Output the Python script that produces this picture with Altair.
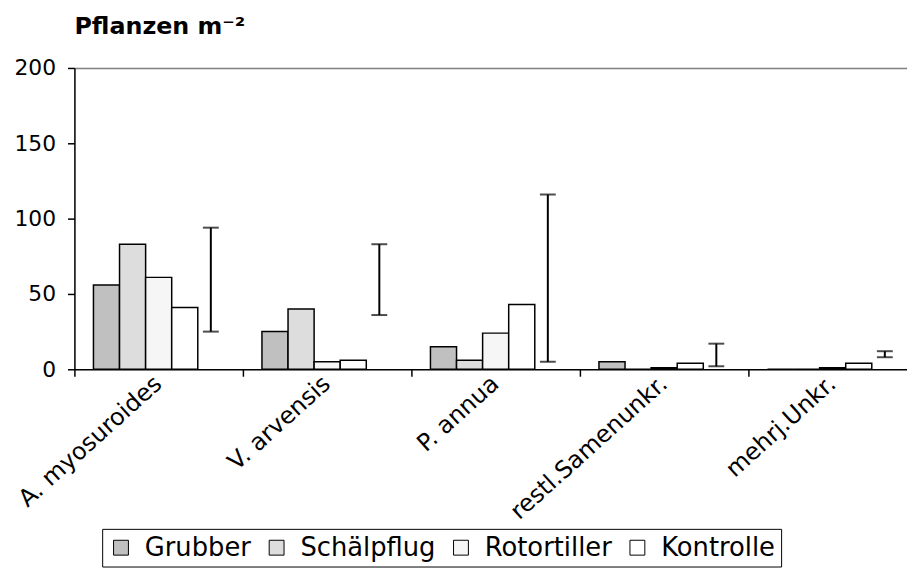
import altair as alt
import pandas as pd

categories = ["A. myosuroides", "V. arvensis", "P. annua", "restl.Samenunkr.", "mehrj.Unkr."]
series = ["Grubber", "Schälpflug", "Rotortiller", "Kontrolle"]
grubber = [56, 25, 15, 5, 0]
schaelpflug = [83, 40, 6, 0, 0]
rotortiller = [61, 5, 24, 1, 1]
kontrolle = [41, 6, 43, 4, 4]
err_low = [25, 36, 5, 2, 8]
err_high = [94, 83, 116, 17, 12]
colors = ["#C0C0C0", "#DDDDDD", "#F6F6F6", "#FFFFFF"]
slots = series + ["GD"]
y_ticks = [0, 50, 100, 150, 200]

rows = []
for s, vals in zip(series, [grubber, schaelpflug, rotortiller, kontrolle]):
    for c, v in zip(categories, vals):
        rows.append({"cat": c, "series": s, "value": v})
bars_df = pd.DataFrame(rows)
err_df = pd.DataFrame({"cat": categories, "slot": ["GD"] * len(categories),
                       "low": err_low, "high": err_high})

FONT = "DejaVu Sans"

x_scale = alt.Scale(domain=categories, range=[0, 850], paddingInner=0, paddingOuter=0)
x_enc = alt.X(
    "cat:N", sort=categories, scale=x_scale,
    axis=alt.Axis(title=None, labelAngle=-42, labelAlign="right", labelBaseline="middle",
                  labelFontSize=24, labelFont=FONT, labelColor="black", labelPadding=4,
                  tickSize=7, tickColor="black", tickWidth=1.5, bandPosition=0,
                  domainColor="black", domainWidth=1.5, labelLimit=400),
)
xoff_scale = alt.Scale(domain=slots, paddingInner=0, paddingOuter=0.73)

bars = alt.Chart(bars_df).mark_bar(stroke="black", strokeWidth=1.5).encode(
    x=x_enc,
    xOffset=alt.XOffset("series:N", sort=slots, scale=xoff_scale),
    y=alt.Y("value:Q", scale=alt.Scale(domain=[0, 200], nice=False),
            axis=alt.Axis(title=None, values=y_ticks, labelFontSize=22, labelFont=FONT,
                          labelColor="black", labelPadding=12, tickSize=7, tickColor="black",
                          tickWidth=1.5, domainColor="black", domainWidth=1.5,
                          grid=True, gridColor="#808080", gridWidth=1.5,
                          gridOpacity={"condition": {"test": "datum.value === 200", "value": 1}, "value": 0})),
    fill=alt.Fill("series:N", sort=series,
                  scale=alt.Scale(domain=series, range=colors),
                  legend=alt.Legend(title=None, orient="none", legendX=28, legendY=465,
                                    direction="horizontal", strokeColor="black", padding=6,
                                    symbolType="square", symbolSize=225,
                                    symbolStrokeColor="black", symbolStrokeWidth=1,
                                    labelFontSize=26, labelFont=FONT, labelColor="black",
                                    labelOffset=11, columnPadding=12)),
)

rules = alt.Chart(err_df).mark_rule(color="black", strokeWidth=2).encode(
    x=alt.X("cat:N", sort=categories, scale=x_scale),
    xOffset=alt.XOffset("slot:N", scale=xoff_scale),
    y=alt.Y("low:Q"),
    y2="high:Q",
)
cap_low = alt.Chart(err_df).mark_tick(color="black", thickness=2, size=16).encode(
    x=alt.X("cat:N", sort=categories, scale=x_scale),
    xOffset=alt.XOffset("slot:N", scale=xoff_scale),
    y=alt.Y("low:Q"),
)
cap_high = alt.Chart(err_df).mark_tick(color="black", thickness=2, size=16).encode(
    x=alt.X("cat:N", sort=categories, scale=x_scale),
    xOffset=alt.XOffset("slot:N", scale=xoff_scale),
    y=alt.Y("high:Q"),
)

chart = alt.layer(bars, rules, cap_low, cap_high).properties(
    width=840, height=304,
    autosize=alt.AutoSizeParams(type="none"),
    padding={"left": 67, "top": 58, "right": 0, "bottom": 199},
    title=alt.TitleParams("Pflanzen m⁻²", anchor="start", frame="group", font=FONT,
                          fontSize=24, fontWeight="bold", color="black", offset=18),
).configure_view(stroke=None).configure(background="white")

chart.save("out.html", embed_options={"renderer": "svg", "actions": False})
